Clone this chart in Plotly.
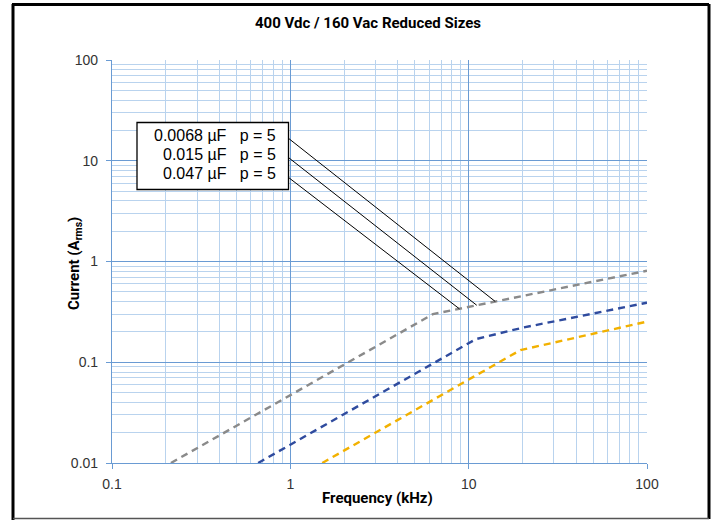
import numpy as np
import plotly.graph_objects as go

# ---- data ----
series_names = ["0.0068 µF", "0.015 µF", "0.047 µF"]
series_p = [5, 5, 5]

freq_0068 = [0.214, 6.3, 100]
curr_0068 = [0.01, 0.30, 0.81]

freq_015 = [0.66, 11.0, 20.0, 100]
curr_015 = [0.01, 0.17, 0.22, 0.39]

freq_047 = [1.51, 19.5, 100]
curr_047 = [0.01, 0.132, 0.253]

x_tick_vals = [0.1, 1, 10, 100]
x_tick_text = ["0.1", "1", "10", "100"]
y_tick_vals = [0.01, 0.1, 1, 10, 100]
y_tick_text = ["0.01", "0.1", "1", "10", "100"]

# leader-line target frequencies on the grey curve (one per label)
leader_target_freq = [14.1, 11.1, 8.87]

# ---- geometry helpers (page pixels -> paper) ----
W, H = 714, 520
L, R, T, B = 112, 647, 60, 463


def px(xp):
    return (xp - L) / (R - L)


def py(yp):
    return (B - yp) / (B - T)


def log_interp(x, xs, ys):
    return 10 ** np.interp(np.log10(x), np.log10(xs), np.log10(ys))


fig = go.Figure()

colors = ["#8a8a8a", "#2f4b9e", "#f2b100"]
for name, fx, cy, col in zip(series_names,
                             [freq_0068, freq_015, freq_047],
                             [curr_0068, curr_015, curr_047], colors):
    fig.add_trace(go.Scatter(x=fx, y=cy, mode="lines", name=name,
                             line=dict(color=col, width=2.4, dash="7px,5px"),
                             showlegend=False, hoverinfo="skip"))

# leader lines from the label box to the grey curve
label_anchor_x = 0.925
label_anchor_y = [18.0, 11.6, 7.35]
for fy, tf in zip(label_anchor_y, leader_target_freq):
    ty = float(log_interp(tf, freq_0068, curr_0068))
    fig.add_trace(go.Scatter(x=[label_anchor_x, tf], y=[fy, ty], mode="lines",
                             line=dict(color="black", width=1),
                             showlegend=False, hoverinfo="skip"))

minor_x = [m * 10.0 ** e for e in range(-1, 2) for m in range(2, 10)]
minor_y = [m * 10.0 ** e for e in range(-2, 2) for m in range(2, 10)]

tick_font = dict(family="Liberation Sans, Arial, sans-serif", size=14, color="#333333")
major_grid = "#6a9bd3"
minor_grid = "#b9d3ee"

fig.update_xaxes(type="log", range=[-1, 2], tickvals=x_tick_vals, ticktext=x_tick_text,
                 ticks="outside", ticklen=5, tickcolor=major_grid, tickwidth=1,
                 showline=True, linecolor=major_grid, linewidth=1.2,
                 showgrid=True, gridcolor=major_grid, gridwidth=1.2,
                 minor=dict(tickvals=minor_x, showgrid=True, gridcolor=minor_grid,
                            gridwidth=1.3, ticks=""),
                 tickfont=tick_font, ticklabelstandoff=3, zeroline=False)
fig.update_yaxes(type="log", range=[-2, 2], tickvals=y_tick_vals, ticktext=y_tick_text,
                 ticks="outside", ticklen=5, tickcolor=major_grid, tickwidth=1,
                 showline=True, linecolor=major_grid, linewidth=1.2,
                 showgrid=True, gridcolor=major_grid, gridwidth=1.2,
                 minor=dict(tickvals=minor_y, showgrid=True, gridcolor=minor_grid,
                            gridwidth=1.3, ticks=""),
                 tickfont=tick_font, ticklabelstandoff=5, zeroline=False)

title_font = dict(family="Roboto, Liberation Sans, sans-serif", size=15, color="black")
label_font = dict(family="Liberation Sans, Arial, sans-serif", size=16, color="black")

annotations = [
    dict(text="<b>400 Vdc / 160 Vac Reduced Sizes</b>", xref="paper", yref="paper",
         x=px(368), y=py(23), xanchor="center", yanchor="middle", showarrow=False,
         font=title_font),
    dict(text="<b>Frequency (kHz)</b>", xref="paper", yref="paper",
         x=px(377), y=py(498), xanchor="center", yanchor="middle", showarrow=False,
         font=title_font),
    dict(text="<b>Current (A<sub>rms</sub>)</b>", xref="paper", yref="paper",
         x=px(75), y=py(264), xanchor="center", yanchor="middle", showarrow=False,
         textangle=-90, font=title_font),
]

# label box lines (one annotation per capacitor)
line_y_px = [135, 154, 173]
for n, p, ly in zip(series_names, series_p, line_y_px):
    annotations.append(dict(text=f"{n}\u00a0\u00a0\u00a0p = {p}", xref="paper", yref="paper",
                            x=px(278), y=py(ly), xanchor="right", yanchor="middle",
                            showarrow=False, font=label_font))

shapes = [
    # label box
    dict(type="rect", xref="paper", yref="paper", x0=px(137), x1=px(288.5),
         y0=py(189.5), y1=py(122.5), line=dict(color="black", width=1.3),
         fillcolor="white", layer="above"),
    # outer frame
    dict(type="line", xref="paper", yref="paper", x0=px(13), x1=px(13), y0=py(4), y1=py(520),
         line=dict(color="black", width=3)),
    dict(type="line", xref="paper", yref="paper", x0=px(12), x1=px(709), y0=py(4.5), y1=py(4.5),
         line=dict(color="black", width=3)),
    dict(type="line", xref="paper", yref="paper", x0=px(709), x1=px(709), y0=py(4), y1=py(519),
         line=dict(color="black", width=3)),
    dict(type="line", xref="paper", yref="paper", x0=px(13), x1=px(709), y0=py(518.5), y1=py(518.5),
         line=dict(color="#555555", width=1.5)),
]

fig.update_layout(width=W, height=H, margin=dict(l=L, r=W - R, t=T, b=H - B),
                  paper_bgcolor="white", plot_bgcolor="white",
                  annotations=annotations, shapes=shapes, showlegend=False)

fig.write_html("out.html", config={"displayModeBar": False},
               post_script="document.body.style.margin='0';document.body.style.overflow='hidden';")
